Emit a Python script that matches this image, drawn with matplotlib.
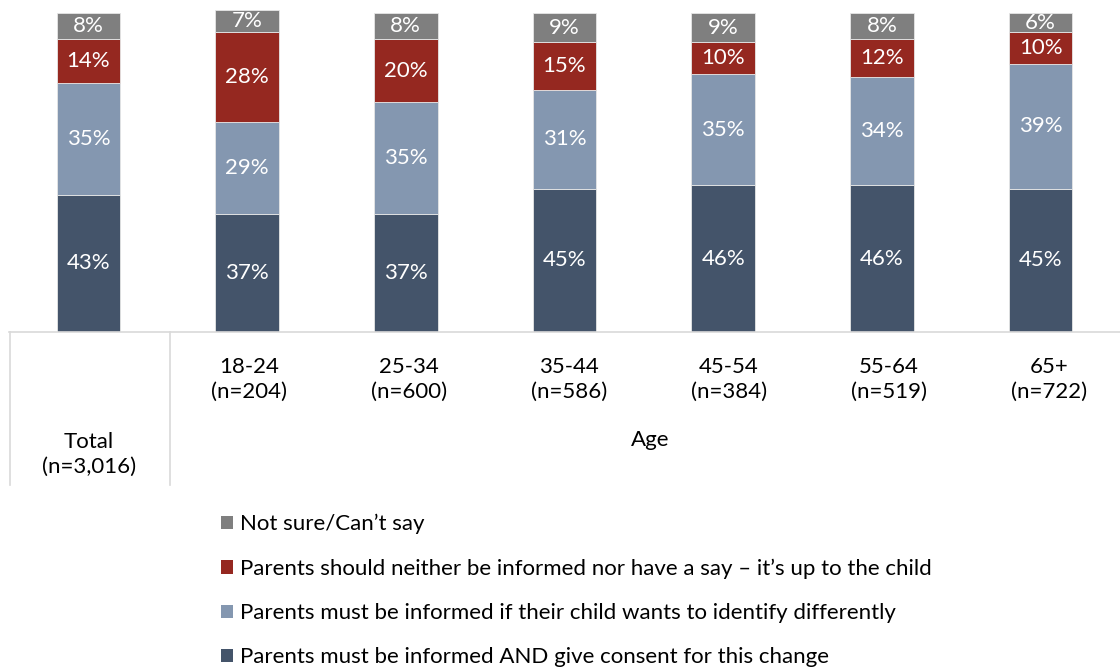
import matplotlib
matplotlib.use('Agg')
import matplotlib.pyplot as plt
from matplotlib.patches import Patch

# Data (percent)
groups = ['Total\n(n=3,016)', '18-24\n(n=204)', '25-34\n(n=600)', '35-44\n(n=586)',
          '45-54\n(n=384)', '55-64\n(n=519)', '65+\n(n=722)']
consent = [43, 37, 37, 45, 46, 46, 45]
informed = [35, 29, 35, 31, 35, 34, 39]
neither = [14, 28, 20, 15, 10, 12, 10]
not_sure = [8, 7, 8, 9, 9, 8, 6]

series_labels = [
    'Parents must be informed AND give consent for this change',
    'Parents must be informed if their child wants to identify differently',
    'Parents should neither be informed nor have a say \u2013 it\u2019s up to the child',
    'Not sure/Can\u2019t say',
]
colors = ['#44546A', '#8497B0', '#952820', '#7F7F7F']

plt.rcParams['font.family'] = ['Lato', 'DejaVu Sans']
FS = 16

W, H = 1120, 667
fig = plt.figure(figsize=(W / 100, H / 100), dpi=100)
base_y = 332
top_y = 10
ax = fig.add_axes([9 / W, 1 - base_y / H, (W - 9) / W, (base_y - top_y) / H])

x = list(range(len(groups)))
bottoms = [0] * len(groups)
for vals, col in zip([consent, informed, neither, not_sure], colors):
    ax.bar(x, vals, bottom=bottoms, width=0.4, color=col,
           edgecolor='#E6E6E6', linewidth=0.6)
    for xi, v, b in zip(x, vals, bottoms):
        ax.text(xi, b + v / 2, f'{v}%', ha='center', va='center',
                color='white', fontsize=FS, clip_on=False)
    bottoms = [b + v for b, v in zip(bottoms, vals)]

ax.set_xlim(-0.5, len(groups) - 0.5)
ax.set_ylim(0, 101)
ax.set_yticks([])
ax.set_xticks([])
for s in ['top', 'left', 'right']:
    ax.spines[s].set_visible(False)
ax.spines['bottom'].set_color('#D9D9D9')
ax.spines['bottom'].set_linewidth(1.2)

# separators below the axis
sep_color = '#D9D9D9'
for px in [9.5, 169.5]:
    fig.add_artist(plt.Line2D([px / W, px / W], [1 - base_y / H, 1 - 485 / H],
                              color=sep_color, linewidth=1.2))

# category labels
for xi, g in zip(x, groups):
    if xi == 0:
        continue
    fig.text((89 + 160 * xi) / W, 1 - 379 / H, g, ha='center', va='center',
             fontsize=FS, linespacing=1.3)
fig.text(89 / W, 1 - 454 / H, groups[0], ha='center', va='center',
         fontsize=FS, linespacing=1.3)
fig.text(650 / W, 1 - 440 / H, 'Age', ha='center', va='center', fontsize=FS)

# legend
handles = [Patch(facecolor=c, edgecolor='none') for c in colors][::-1]
fig.legend(handles, series_labels[::-1], loc='upper left',
           bbox_to_anchor=(201 / W, 1 - 494 / H), frameon=False,
           fontsize=FS, handlelength=0.55, handleheight=0.55,
           handletextpad=0.3, labelspacing=1.09)

fig.savefig('out.png', dpi=100)
